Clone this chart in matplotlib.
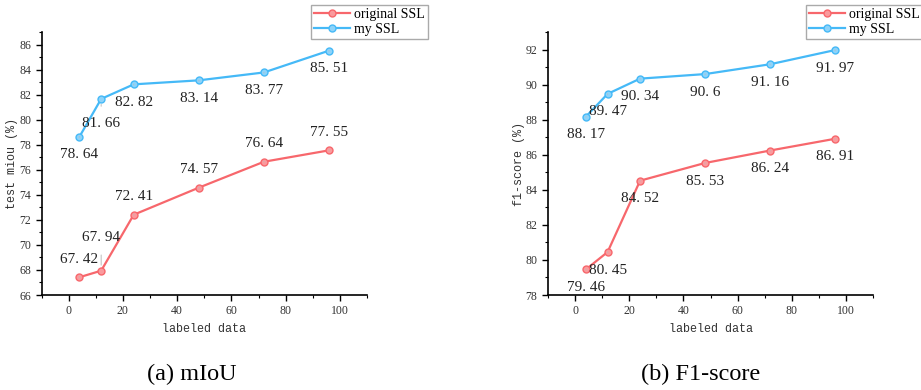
import matplotlib
matplotlib.use('Agg')
import matplotlib.pyplot as plt
from matplotlib.ticker import MultipleLocator

# data
labeled = [4, 12, 24, 48, 72, 96]
miou_orig = [67.42, 67.94, 72.41, 74.57, 76.64, 77.55]
miou_my = [78.64, 81.66, 82.82, 83.14, 83.77, 85.51]
f1_orig = [79.46, 80.45, 84.52, 85.53, 86.24, 86.91]
f1_my = [88.17, 89.47, 90.34, 90.6, 91.16, 91.97]
miou_orig_txt = ['67. 42', '67. 94', '72. 41', '74. 57', '76. 64', '77. 55']
miou_my_txt = ['78. 64', '81. 66', '82. 82', '83. 14', '83. 77', '85. 51']
f1_orig_txt = ['79. 46', '80. 45', '84. 52', '85. 53', '86. 24', '86. 91']
f1_my_txt = ['88. 17', '89. 47', '90. 34', '90. 6', '91. 16', '91. 97']
# label offsets (points, negative = below the point)
miou_orig_off = [13, 24, 13, 13, 13, 13]
miou_my_off = [-13, -18, -13, -13, -13, -13]
f1_orig_off = [-13, -13, -13, -13, -13, -13]
f1_my_off = [-13, -13, -13, -13, -13, -13]

RED = '#F7676C'
BLUE = '#45B9F7'
MONO = 'Liberation Mono'
SERIF = 'Liberation Serif'

fig = plt.figure(figsize=(9.21, 3.9), dpi=100)


def label_points(ax, ys, txts, offs):
    for x, y, t, o in zip(labeled, ys, txts, offs):
        ax.annotate(t, (x, y), xytext=(0, o), textcoords='offset points',
                    ha='center', va='center', fontsize=11, family=SERIF,
                    color='#222222',
                    arrowprops=dict(arrowstyle='-', color='#bbbbbb', lw=0.7,
                                    shrinkA=6, shrinkB=4))


def panel(rect, orig, my, orig_txt, my_txt, orig_off, my_off, ylim, ylab,
          caption, cap_x, leg_pos):
    ax = fig.add_axes(rect)
    l1, = ax.plot(labeled, orig, color=RED, lw=1.6, marker='o', ms=5,
                  mfc='#FA9A9D', mec=RED, label='original SSL')
    l2, = ax.plot(labeled, my, color=BLUE, lw=1.6, marker='o', ms=5,
                  mfc='#8DD3FA', mec=BLUE, label='my SSL')
    label_points(ax, orig, orig_txt, orig_off)
    label_points(ax, my, my_txt, my_off)
    ax.set_xlim(-10, 110)
    ax.set_ylim(*ylim)
    ax.xaxis.set_major_locator(MultipleLocator(20))
    ax.xaxis.set_minor_locator(MultipleLocator(10))
    ax.yaxis.set_major_locator(MultipleLocator(2))
    ax.yaxis.set_minor_locator(MultipleLocator(1))
    ax.spines['top'].set_visible(False)
    ax.spines['right'].set_visible(False)
    for s in ('left', 'bottom'):
        ax.spines[s].set_linewidth(1.2)
    ax.tick_params(which='major', direction='out', length=4, width=1,
                   labelsize=8.5, labelcolor='#333333')
    ax.tick_params(which='minor', direction='out', length=2.5, width=0.8)
    for lb in ax.get_xticklabels() + ax.get_yticklabels():
        lb.set_family(SERIF)
    ax.set_xlabel('labeled data', family=MONO, fontsize=8.5, color='#333333',
                  labelpad=4)
    ax.set_ylabel(ylab, family=MONO, fontsize=8.5, color='#333333')
    ax.yaxis.set_label_coords(-0.072, 0.5)
    fig.legend(handles=[l1, l2], loc='upper left', bbox_to_anchor=leg_pos,
               prop={'family': SERIF, 'size': 10}, frameon=True,
               fancybox=False, edgecolor='#aaaaaa', framealpha=1,
               borderpad=0.2, labelspacing=0.15, handlelength=2.6,
               handletextpad=0.3, borderaxespad=0)
    fig.text(cap_x / 921, 1 - 374 / 390, caption, family=SERIF,
             fontsize=17.5, ha='center', va='center')
    return ax


panel([41.5 / 921, 95 / 390, 325.5 / 921, 263 / 390], miou_orig, miou_my,
      miou_orig_txt, miou_my_txt, miou_orig_off, miou_my_off, (66, 87),
      'test miou (%)', '(a) mIoU', 192, (311 / 921, 1 - 5 / 390))
panel([548 / 921, 95 / 390, 325 / 921, 263 / 390], f1_orig, f1_my,
      f1_orig_txt, f1_my_txt, f1_orig_off, f1_my_off, (78, 93),
      'f1-score (%)', '(b) F1-score', 701, (806 / 921, 1 - 5 / 390))

fig.savefig('out.png', dpi=100)
